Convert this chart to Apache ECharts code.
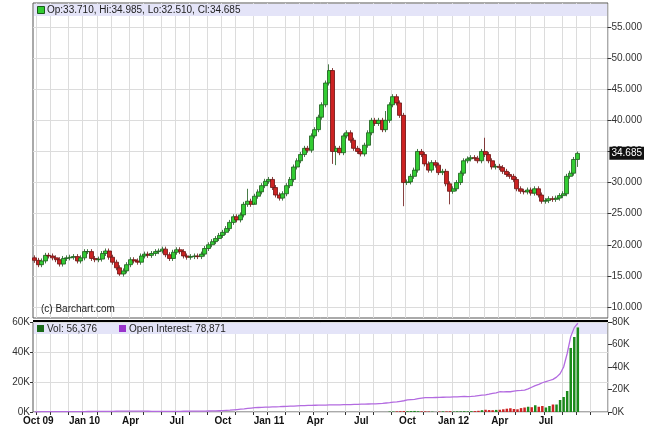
<!DOCTYPE html>
<html><head><meta charset="utf-8">
<script src="https://cdn.jsdelivr.net/npm/echarts@6/dist/echarts.min.js"></script>
<style>html,body{margin:0;padding:0;background:#fff}#c{width:645px;height:430px}</style>
</head><body><div id="c"></div>
<script>
const startDate = '2009-09-28';
const totalSlots = 162;
const closes = [
17.5,16.8,17.4,18.3,18.2,17.9,17.6,16.9,17.8,17.9,18.0,18.1,17.4,17.9,
18.9,18.9,17.8,17.6,17.7,18.6,19.0,18.0,17.2,16.3,15.3,15.8,16.8,
17.6,17.4,17.2,18.2,18.5,18.3,18.6,18.9,19.0,19.3,18.4,17.8,18.8,
19.2,18.9,18.2,18.0,18.1,18.2,18.1,18.5,19.4,20.0,20.5,21.0,21.5,
22.0,22.6,23.6,24.5,24.0,24.8,26.5,27.0,26.5,27.8,28.5,29.5,30.2,
30.5,29.2,28.0,27.5,28.2,29.5,30.5,32.5,33.5,34.5,35.5,35.2,37.5,
38.5,40.5,42.5,46.0,48.0,35.0,35.5,34.8,37.5,38.0,36.8,35.5,35.0,
34.6,36.0,38.0,40.0,39.5,40.0,38.5,40.0,42.5,43.8,42.8,40.8,30.0,
30.1,31.0,32.0,35.0,34.5,33.0,32.0,33.2,32.8,31.6,31.8,29.8,28.6,
29.0,30.0,31.5,33.5,33.8,34.0,33.9,33.5,35.0,34.5,33.5,32.5,32.6,
32.4,31.8,31.3,31.0,30.5,29.0,28.6,28.5,28.8,28.3,29.0,28.0,27.0,
27.1,27.4,27.3,27.5,27.9,28.2,31.0,31.5,33.71,34.685];
const firstOpen = 17.9;
const highOverrides = {60:29.0, 83:49.0, 99:41.5, 127:37.2, 153:34.985};
const lowOverrides = {84:33.0, 85:32.8, 104:26.2, 117:26.5, 62:26.8, 153:32.51, 24:15.0};
const volumes = new Array(100).fill(0).concat([
300,300,400,500,600,
500,600,700,500,400,400,300,200,0,300,400,400,500,
300,400,400,500,400,500,600,800,1200,1500,1300,1200,1400,
1500,1800,2200,2500,2000,1800,2600,3000,3500,3200,4500,3500,4000,
3000,4000,5000,5000,8000,10000,14000,42700,50000,56376]);
const openInterest = [
200,200,250,250,300,300,300,300,350,350,350,400,400,400,400,450,450,500,500,500,550,600,600,650,700,700,750,
800,800,800,750,700,650,600,600,550,550,550,550,600,600,600,650,650,700,700,750,800,850,900,950,1000,1100,
1200,1400,1600,1900,2200,2500,2800,3200,3500,3800,4000,4200,4300,
4400,4500,4600,4700,4900,5000,5200,5300,5500,5600,5700,5800,5900,
6000,6100,6200,6200,6300,6300,6400,6400,6500,6500,6600,6700,6800,
7000,7000,7100,7200,7300,7500,7700,8000,8300,8700,9000,9500,10000,
10700,11000,11300,11800,12300,12700,12800,12700,12900,13000,13100,13200,13300,
13500,13400,13600,13800,13700,13900,14200,14600,15000,15300,15800,16500,17000,
18000,17800,18200,18000,18500,19000,19200,19500,20500,22000,23500,24500,26000,
27000,28000,29000,31000,34000,40000,52000,67000,75000,78871];
const monthNames = ['Jan','Feb','Mar','Apr','May','Jun','Jul','Aug','Sep','Oct','Nov','Dec'];

const dates = [];
{ const d0 = new Date(startDate+'T00:00:00Z');
  for (let i=0;i<totalSlots;i++){ dates.push(new Date(d0.getTime()+i*7*864e5)); } }
const cats = dates.map(d=>d.toISOString().slice(0,10));
const firstOfMonth = i => i===0 ? false : dates[i].getUTCMonth()!==dates[i-1].getUTCMonth();
const quarterLabel = i => {
  if (!firstOfMonth(i) || i>closes.length) return '';
  const m = dates[i].getUTCMonth();
  if (m%3!==0) return '';
  const yy = String(dates[i].getUTCFullYear()).slice(2);
  if (i<5) return 'Oct ' + yy;
  if (m===0) return 'Jan ' + yy;
  return monthNames[m];
};
const ohlc = closes.map((c,i)=>{
  const o = i===0 ? firstOpen : closes[i-1];
  const h = highOverrides[i] ?? Math.max(o,c)+0.4;
  const l = lowOverrides[i] ?? Math.min(o,c)-0.4;
  return [o,c,l,h];
});
const volData = volumes.map((v,i)=>({value:v, itemStyle:{color: ohlc[i] && ohlc[i][1]>=ohlc[i][0] ? '#1a8a1a':'#cc2222'}}));

const L=33, R=37;
const gridLine = {show:true, lineStyle:{color:'#dcdcdc', width:1}};
const xBase = {type:'category', data:cats, boundaryGap:true, axisTick:{show:false}, axisLine:{show:false}, axisLabel:{show:false},
  splitLine:{show:true, interval:(i)=>firstOfMonth(i), lineStyle:{color:'#dcdcdc'}}};
const chart = echarts.init(document.getElementById('c'));
chart.setOption({
  animation:false,
  backgroundColor:'#fff',
  textStyle:{fontFamily:'Liberation Sans, Arial'},
  grid:[
    {left:L,right:R,top:3,height:315,show:true,borderColor:'#555',borderWidth:1,backgroundColor:'transparent'},
    {left:L,right:R,top:27,height:280},
    {left:L,right:R,top:322,height:90,show:true,borderColor:'#555',borderWidth:1},
  ],
  xAxis:[
    Object.assign({gridIndex:0}, xBase),
    Object.assign({gridIndex:1}, xBase, {splitLine:{show:false}}),
    Object.assign({gridIndex:2}, xBase, {axisLabel:{show:true, interval:0, formatter:(v,i)=>quarterLabel(i), color:'#111', fontSize:10, fontWeight:'bold', margin:4},
      axisTick:{show:true, interval:(i)=>firstOfMonth(i), length:3, lineStyle:{color:'#333'}}})
  ],
  yAxis:[
    {gridIndex:0, min:0, max:1, show:false},
    {gridIndex:1, min:10, max:55, interval:5, position:'right', axisLine:{show:false}, axisTick:{show:true,length:4,lineStyle:{color:'#333'}},
      axisLabel:{formatter:v=>v.toFixed(3), color:'#333', fontSize:10, margin:4}, splitLine:gridLine},
    {gridIndex:2, min:0, max:60000, interval:20000, position:'left', axisLine:{show:false}, axisTick:{show:true,length:3,lineStyle:{color:'#333'}},
      axisLabel:{formatter:v=>(v/1000)+'K', color:'#333', fontSize:10, margin:3}, splitLine:gridLine},
    {gridIndex:2, min:0, max:80000, interval:20000, position:'right', axisLine:{show:false}, axisTick:{show:true,length:4,lineStyle:{color:'#333'}},
      axisLabel:{formatter:v=>(v/1000)+'K', color:'#333', fontSize:10, margin:4}, splitLine:{show:false}}
  ],
  series:[
    {type:'candlestick', xAxisIndex:1, yAxisIndex:1, data:ohlc, barWidth:4.5,
      itemStyle:{color:'#33cc33', color0:'#cc2222', borderColor:'#1a5a1a', borderColor0:'#6a1010', borderWidth:0.8},
      markLine:{symbol:'none', silent:true, z:20, data:[{yAxis:34.685}], lineStyle:{color:'transparent', width:1},
        label:{show:true, position:'end', formatter:'34.685', color:'#fff', backgroundColor:'#111', padding:[2,2,1,2], fontSize:10, distance:2}}},
    {type:'bar', xAxisIndex:2, yAxisIndex:2, data:volData, barWidth:2.5},
    {type:'line', xAxisIndex:2, yAxisIndex:3, data:openInterest, symbol:'none', lineStyle:{color:'#b36be0', width:1.3}}
  ],
  graphic:[
    {type:'rect', left:L+1, top:4, shape:{width:645-L-R-2, height:12}, style:{fill:'#e4e4f8'}, z:1},
    {type:'rect', left:L+4, top:6, shape:{width:7, height:7}, style:{fill:'#33cc33', stroke:'#1a5a1a', lineWidth:1}, z:10},
    {type:'text', left:L+14, top:5, style:{text:'Op:33.710, Hi:34.985, Lo:32.510, Cl:34.685', fill:'#222', font:'10px Liberation Sans'}, z:10},
    {type:'text', left:L+8, top:304, style:{text:'(c) Barchart.com', fill:'#222', font:'10px Liberation Sans'}, z:10},
    {type:'rect', left:L, top:320, shape:{width:645-L-R, height:2}, style:{fill:'#000'}, z:10},
    {type:'rect', left:L+1, top:323, shape:{width:645-L-R-2, height:11}, style:{fill:'#e4e4f8'}, z:1},
    {type:'rect', left:L+4, top:325, shape:{width:7, height:7}, style:{fill:'#1a6a1a'}, z:10},
    {type:'text', left:L+14, top:324, style:{text:'Vol: 56,376', fill:'#222', font:'10px Liberation Sans'}, z:10},
    {type:'rect', left:L+86, top:325, shape:{width:7, height:7}, style:{fill:'#9933cc'}, z:10},
    {type:'text', left:L+96, top:324, style:{text:'Open Interest: 78,871', fill:'#222', font:'10px Liberation Sans'}, z:10}
  ]
});
</script></body></html>
